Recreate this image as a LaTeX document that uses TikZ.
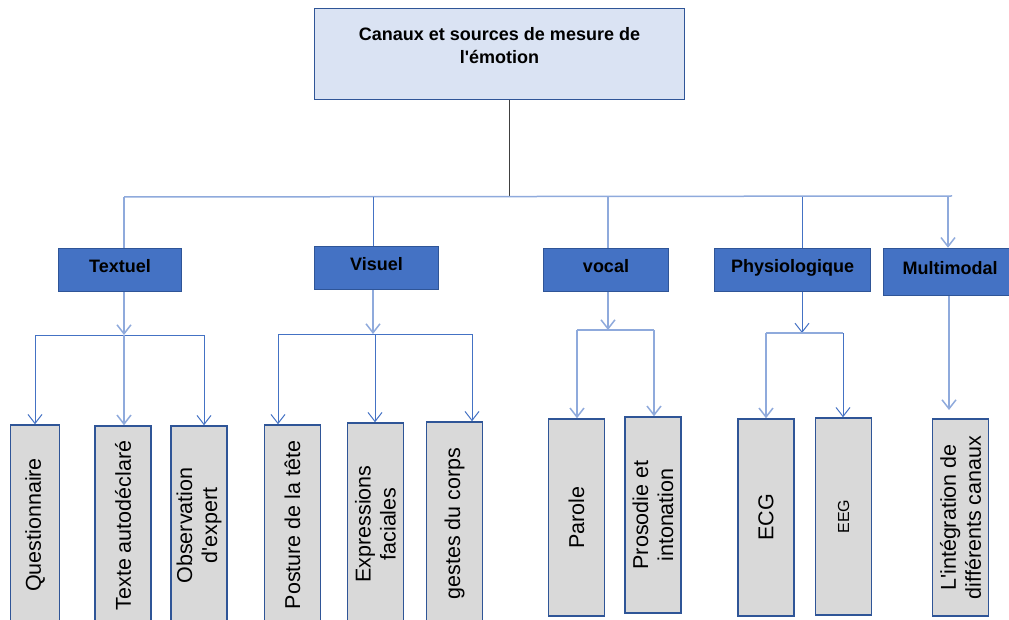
\documentclass[tikz,border=0pt]{standalone}
\usepackage{fontspec}
\setmainfont{Liberation Sans}
\usetikzlibrary{arrows.meta}
\definecolor{titrefond}{HTML}{DAE3F3}
\definecolor{bordbleu}{HTML}{2F5597}
\definecolor{canalbleu}{HTML}{4472C4}
\definecolor{sourcegris}{HTML}{D9D9D9}
\definecolor{lienclair}{HTML}{8FAADC}
\definecolor{lienfonce}{HTML}{4472C4}
\definecolor{liengris}{HTML}{404040}

\begin{document}
\begin{tikzpicture}[x=1pt, y=-1pt,
        titre/.style={draw=bordbleu, line width=1.5pt, fill=titrefond, minimum width=370pt, minimum height=91pt},
        titretexte/.style={align=center, font=\fontsize{18}{23}\selectfont\bfseries},
        canal/.style={draw=bordbleu, line width=1.5pt, fill=canalbleu, minimum height=43pt, text height=13pt, text depth=8pt, font=\fontsize{18}{22}\selectfont\bfseries},
        source/.style={draw=bordbleu, line width=1.5pt, fill=sourcegris, rotate=90, minimum height=56pt, align=center, font=\fontsize{21.5}{25}\selectfont},
        lien/.style={lienclair, line width=1.5pt},
        fin/.style={lienfonce, line width=1pt},
        gris/.style={liengris, line width=1pt},
        fleche/.style={-{Straight Barb[length=9pt, width=14pt]}}]
        \useasboundingbox (0,0) rectangle (1009,620);

        \node[titre] (titre) at (499.5,54) {};
        \node[titretexte] (titrelib) at (499.5,46) {Canaux et sources de mesure de\\l\textquotesingle émotion};

        \node[canal, minimum width=123pt] (textuel) at (120,270) {Textuel};
        \node[canal, minimum width=124pt] (visuel) at (376.5,268) {Visuel};
        \node[canal, minimum width=125pt] (vocal) at (606,270) {vocal};
        \node[canal, minimum width=156pt] (physio) at (792.5,270) {Physiologique};
        \node[canal, minimum width=133pt, minimum height=47pt] (multi) at (950,272) {Multimodal};

        \node[source, minimum width=200pt, minimum height=49pt] (quest) at (35,525) {Questionnaire};
        \node[source, minimum width=199pt] (texte) at (123,525.5) {Texte autodéclaré};
        \node[source, minimum width=199pt] (observ) at (199,525.5) {Observation\\d\textquotesingle expert};
        \node[source, minimum width=200pt] (posture) at (292.5,525) {Posture de la tête};
        \node[source, minimum width=202pt] (express) at (375.5,524) {Expressions\\faciales};
        \node[source, minimum width=203pt] (gestes) at (454.5,523.5) {gestes du corps};
        \node[source, minimum width=197pt] (parole) at (576.5,517.5) {Parole};
        \node[source, minimum width=196pt] (prosodie) at (653,515) {Prosodie et\\intonation};
        \node[source, minimum width=197pt] (ecg) at (766,517.5) {ECG};
        \node[source, minimum width=197pt, font=\fontsize{16}{20}\selectfont] (eeg) at (843.5,516.5) {EEG};
        \node[source, minimum width=197pt] (integ) at (960.5,517.5) {L\textquotesingle intégration de\\différents canaux};

        \coordinate (bus) at (509,197);
        \coordinate (busg) at (124,197);
        \coordinate (busd) at (952,196);
        \coordinate (dv) at (373,197);
        \coordinate (dvo) at (608,197);
        \coordinate (dp) at (802,197);
        \coordinate (dm) at (948,196);
        \draw[gris] (titre.south -| bus) -- (bus);
        \draw[lien] (busg) -- (busd);
        \draw[lien] (busg) -- (busg |- textuel.north);
        \draw[fin] (dv) -- (dv |- visuel.north);
        \draw[lien] (dvo) -- (dvo |- vocal.north);
        \draw[fin] (dp) -- (dp |- physio.north);
        \draw[lien, fleche] (dm) -- (dm |- multi.north);

        \coordinate (st) at (124,335);
        \coordinate (stg) at (35,335);
        \coordinate (std) at (204,335);
        \draw[lien, fleche] (st |- textuel.south) -- (st);
        \draw[fin] (stg) -- (std);
        \draw[fin, fleche] (stg) -- (stg |- quest.east);
        \draw[lien, fleche] (st) -- (st |- texte.east);
        \draw[fin, fleche] (std) -- (std |- observ.east);

        \coordinate (sv) at (373,334);
        \coordinate (svg) at (278,334);
        \coordinate (svm) at (375,334);
        \coordinate (svd) at (472,334);
        \draw[lien, fleche] (sv |- visuel.south) -- (sv);
        \draw[fin] (svg) -- (svd);
        \draw[fin, fleche] (svg) -- (svg |- posture.east);
        \draw[fin, fleche] (svm) -- (svm |- express.east);
        \draw[fin, fleche] (svd) -- (svd |- gestes.east);

        \coordinate (so) at (608,330);
        \coordinate (sog) at (577,330);
        \coordinate (sod) at (654,330);
        \draw[lien, fleche] (so |- vocal.south) -- (so);
        \draw[lien] (sog) -- (sod);
        \draw[lien, fleche] (sog) -- (sog |- parole.east);
        \draw[lien, fleche] (sod) -- (sod |- prosodie.east);

        \coordinate (sp) at (802,333);
        \coordinate (spg) at (766,333);
        \coordinate (spd) at (843,333);
        \draw[fin, fleche] (sp |- physio.south) -- (sp);
        \draw[lien] (spg) -- (spd);
        \draw[lien, fleche] (spg) -- (spg |- ecg.east);
        \draw[fin, fleche] (spd) -- (spd |- eeg.east);

        \coordinate (sm) at (949,410);
        \draw[lien, fleche] (sm |- multi.south) -- (sm);
    \end{tikzpicture}
\end{document}
